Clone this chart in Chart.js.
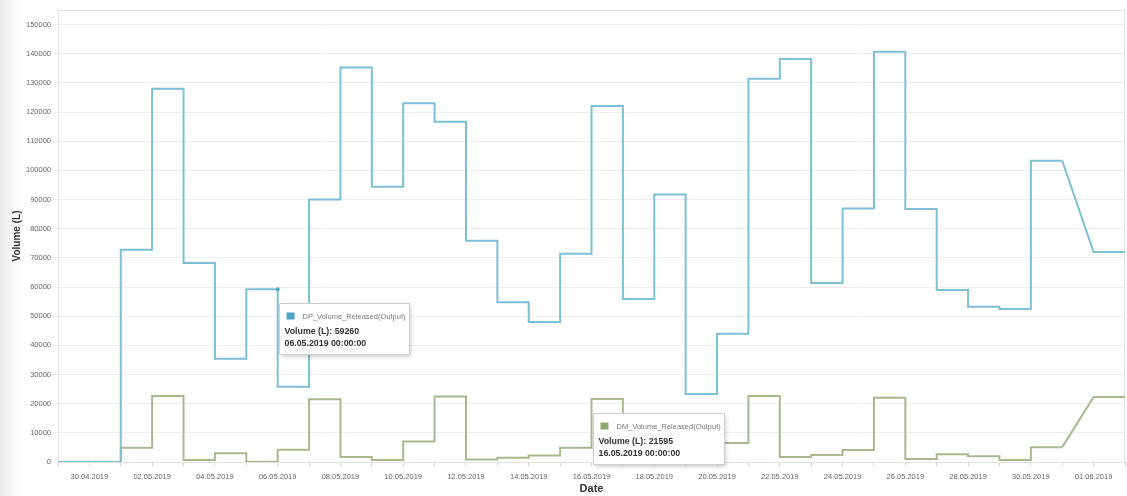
<!DOCTYPE html>
<html>
<head>
<meta charset="utf-8">
<script src="https://cdn.jsdelivr.net/npm/chart.js@4.4.1/dist/chart.umd.min.js"></script>
<style>
    html, body { margin: 0; padding: 0; }
    body {
        width: 1127px; height: 496px; overflow: hidden;
        background: linear-gradient(to right, #e9e9e9 0, #f6f6f6 12px, #fff 20px);
    }
    canvas { display: block; }
</style>
</head>
<body>
<canvas id="volume-chart" width="1127" height="496"></canvas>
<script>
// one entry per day, 29.04.2019 .. 02.06.2019
const dayLabels = [
    "29.04.2019", "30.04.2019", "01.05.2019", "02.05.2019", "03.05.2019", "04.05.2019",
    "05.05.2019", "06.05.2019", "07.05.2019", "08.05.2019", "09.05.2019", "10.05.2019",
    "11.05.2019", "12.05.2019", "13.05.2019", "14.05.2019", "15.05.2019", "16.05.2019",
    "17.05.2019", "18.05.2019", "19.05.2019", "20.05.2019", "21.05.2019", "22.05.2019",
    "23.05.2019", "24.05.2019", "25.05.2019", "26.05.2019", "27.05.2019", "28.05.2019",
    "29.05.2019", "30.05.2019", "31.05.2019", "01.06.2019", "02.06.2019"
];

const dpVolume = [
    0, 0, 72800, 128000, 68200, 35400,
    59260, 25800, 90000, 135300, 94400, 123000,
    116700, 75900, 54800, 48000, 71400, 122100,
    55900, 91700, 23300, 44000, 131400, 138200,
    61400, 86900, 140700, 86800, 59000, 53200,
    52500, 103300, 103300, 72000, 72000
];

const dmVolume = [
    0, 0, 4900, 22600, 700, 3000,
    100, 4200, 21500, 1700, 700, 7000,
    22500, 900, 1500, 2200, 4900, 21595,
    1500, 1200, 3000, 6500, 22600, 1700,
    2400, 4100, 22000, 1000, 2700, 2000,
    700, 5100, 5100, 22300, 22300
];

const yTickValues = [
    0, 10000, 20000, 30000, 40000, 50000, 60000, 70000,
    80000, 90000, 100000, 110000, 120000, 130000, 140000, 150000
];

// the last stretch is drawn as a straight line, not a step
const rampStart = dayLabels.indexOf("31.05.2019");

const tipSeries = ["DP_Volume_Released(Output)", "DM_Volume_Released(Output)"];
const tipDates = ["06.05.2019", "16.05.2019"];
const tipValues = [59260, 21595];

const dpColor = "#7dbfd6";
const dmColor = "#a9b98e";
const tipColors = ["#4da6c6", "#8caa6e"];

const FONT = "'Liberation Sans', Arial, sans-serif";

function toPoints(values, from, to) {
    return values.slice(from, to).map((v, i) => ({ x: from + i, y: v }));
}

function lineDataset(label, values, color, stepped, from, to) {
    return {
        label: label,
        data: toPoints(values, from, to),
        borderColor: color,
        borderWidth: 2,
        pointRadius: 0,
        fill: false,
        stepped: stepped
    };
}

// light frame round the plot area
const framePlugin = {
    id: "frame",
    beforeDatasetsDraw(chart) {
        const a = chart.chartArea;
        const ctx = chart.ctx;
        ctx.save();
        ctx.strokeStyle = "#e2e2e2";
        ctx.lineWidth = 1;
        ctx.strokeRect(a.left + 0.5, a.top + 0.5, a.right - a.left - 1, a.bottom - a.top);
        ctx.restore();
    }
};

// the two hover boxes that are open in the picture
const staticTips = {
    id: "staticTips",
    afterDraw(chart) {
        const ctx = chart.ctx;
        const xs = chart.scales.x;
        const ys = chart.scales.y;
        tipSeries.forEach((name, i) => {
            const k = dayLabels.indexOf(tipDates[i]);
            const px = xs.getPixelForValue(k);
            const py = ys.getPixelForValue(tipValues[i]);
            const line1 = "Volume (L): " + tipValues[i];
            const line2 = tipDates[i] + " 00:00:00";

            ctx.save();
            if (i === 0) {
                ctx.fillStyle = tipColors[i];
                ctx.beginPath();
                ctx.arc(px, py, 2, 0, Math.PI * 2);
                ctx.fill();
            }

            ctx.font = "7.5px " + FONT;
            const nameW = ctx.measureText(name).width;
            ctx.font = "bold 8.8px " + FONT;
            const lineW = Math.max(ctx.measureText(line1).width, ctx.measureText(line2).width);
            const w = Math.round(Math.max(23 + nameW, 6 + lineW) + 4);
            const h = 51;
            const bx = Math.round(px) + 1.5;
            const by = Math.round(py) + 14.5;

            ctx.shadowColor = "rgba(0,0,0,0.18)";
            ctx.shadowBlur = 4;
            ctx.shadowOffsetX = 1;
            ctx.shadowOffsetY = 2;
            ctx.fillStyle = "#fff";
            ctx.fillRect(bx, by, w, h);
            ctx.shadowColor = "transparent";
            ctx.strokeStyle = "#cfcfcf";
            ctx.lineWidth = 1;
            ctx.strokeRect(bx, by, w, h);

            ctx.fillStyle = tipColors[i];
            ctx.fillRect(bx + 7, by + 9, 8, 7);

            ctx.textBaseline = "middle";
            ctx.textAlign = "left";
            ctx.fillStyle = "#7a7a7a";
            ctx.font = "7.5px " + FONT;
            ctx.fillText(name, bx + 23, by + 13);

            ctx.fillStyle = "#333";
            ctx.font = "bold 8.8px " + FONT;
            ctx.fillText(line1, bx + 5, by + 28);
            ctx.fillText(line2, bx + 5, by + 40);
            ctx.restore();
        });
    }
};

new Chart(document.getElementById("volume-chart"), {
    type: "line",
    data: {
        datasets: [
            lineDataset("DP_Volume_Released(Output)", dpVolume, dpColor, "before", 0, rampStart + 1),
            lineDataset("DP_Volume_Released(Output)", dpVolume, dpColor, false, rampStart, dpVolume.length),
            lineDataset("DM_Volume_Released(Output)", dmVolume, dmColor, "before", 0, rampStart + 1),
            lineDataset("DM_Volume_Released(Output)", dmVolume, dmColor, false, rampStart, dmVolume.length)
        ]
    },
    options: {
        responsive: false,
        animation: false,
        devicePixelRatio: 1,
        layout: { padding: { top: 10, right: 2, left: 0, bottom: 0 } },
        plugins: {
            legend: { display: false },
            tooltip: { enabled: false }
        },
        scales: {
            x: {
                type: "linear",
                min: 0,
                max: dayLabels.length - 1,
                afterFit(scale) {
                    scale.height = 34;
                    scale.paddingRight = 0;
                    scale.paddingLeft = 0;
                },
                ticks: {
                    stepSize: 1,
                    autoSkip: false,
                    maxRotation: 0,
                    padding: 6,
                    color: "#666",
                    font: { family: FONT, size: 7.5 },
                    callback: (v) => (v % 2 === 1 ? dayLabels[v] : "")
                },
                grid: { drawOnChartArea: false, tickLength: 4, color: "#cfcfcf" },
                border: { color: "#cfcfcf" },
                title: {
                    display: true,
                    text: "Date",
                    color: "#333",
                    font: { family: FONT, size: 11, weight: "bold" },
                    padding: 0
                }
            },
            y: {
                min: 0,
                max: 155000,
                afterFit(scale) {
                    scale.width = 58;
                    scale.paddingTop = 0;
                    scale.paddingBottom = 0;
                },
                afterBuildTicks(scale) {
                    scale.ticks = yTickValues.map(v => ({ value: v }));
                },
                ticks: {
                    padding: 2,
                    color: "#666",
                    font: { family: FONT, size: 7.5 },
                    callback: (v) => String(v)
                },
                grid: { color: "#ededed", tickLength: 5 },
                border: { color: "#d5d5d5" },
                title: {
                    display: true,
                    text: "Volume (L)",
                    color: "#333",
                    font: { family: FONT, size: 10, weight: "bold" },
                    padding: { top: 11, bottom: 0 }
                }
            }
        }
    },
    plugins: [framePlugin, staticTips]
});
</script>
</body>
</html>
